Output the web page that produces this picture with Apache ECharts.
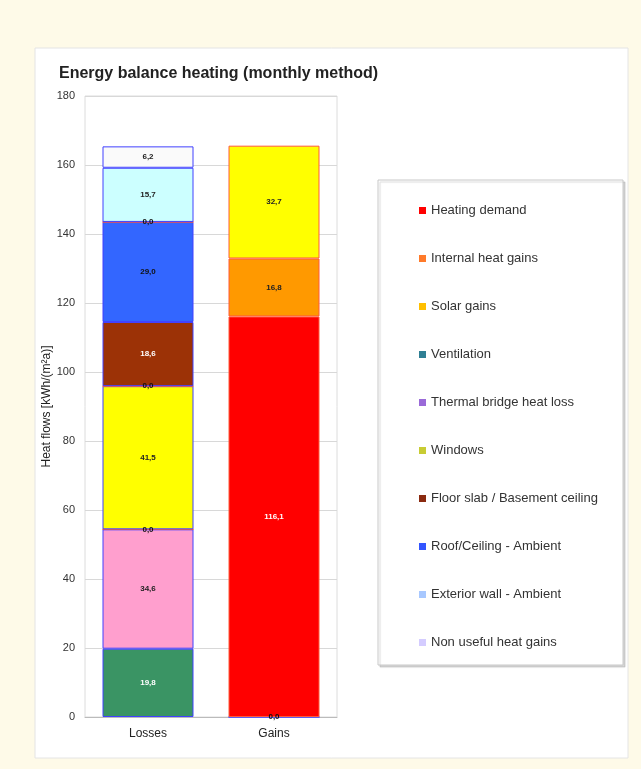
<!DOCTYPE html>
<html>
<head>
<meta charset="utf-8">
<script src="https://cdn.jsdelivr.net/npm/echarts@6/dist/echarts.min.js"></script>
<style>
  body { margin: 0; background: #fefae8; }
  #chart { width: 641px; height: 769px; }
</style>
</head>
<body>
<div id="chart"></div>
<script>
const categories = ['Losses', 'Gains'];

// stacking order, bottom to top
const seriesNames = [
  'Ventilation',
  'Thermal bridge heat loss',
  'Heating demand',
  'Windows',
  'Internal heat gains',
  'Floor slab / Basement ceiling',
  'Roof/Ceiling - Ambient',
  'Solar gains',
  'Exterior wall - Ambient',
  'Non useful heat gains'
];
const lossValues = [19.8, 34.6, 0, 41.5, 0, 18.6, 29.0, 0, 15.7, 6.2];
const gainValues = [0, null, 116.1, null, 16.8, null, null, 32.7, null, null];

const legendOrder = [
  'Heating demand',
  'Internal heat gains',
  'Solar gains',
  'Ventilation',
  'Thermal bridge heat loss',
  'Windows',
  'Floor slab / Basement ceiling',
  'Roof/Ceiling - Ambient',
  'Exterior wall - Ambient',
  'Non useful heat gains'
];

// styles
const barColors = ['#3a9464', '#ff9fce', '#ff0000', '#ffff00', '#ff9900', '#9c3206', '#3366ff', '#ffff00', '#ccffff', '#fafafa'];
const labelColors = ['#ffffff', '#222', '#ffffff', '#222', '#222', '#ffffff', '#111', '#222', '#222', '#222'];
const isGain = [false, false, true, false, true, false, false, true, false, false];
const legendColors = {
  'Heating demand': '#ff0000',
  'Internal heat gains': '#ff7a2a',
  'Solar gains': '#ffbf00',
  'Ventilation': '#2f7f94',
  'Thermal bridge heat loss': '#9a6ad8',
  'Windows': '#c8cc33',
  'Floor slab / Basement ceiling': '#8a2a10',
  'Roof/Ceiling - Ambient': '#3355ff',
  'Exterior wall - Ambient': '#a8c8ff',
  'Non useful heat gains': '#d4ccff'
};

const chart = echarts.init(document.getElementById('chart'));

// zero values still get a dark "0,0" label at the stack boundary
const toItem = v => (v === 0 ? { value: v, label: { color: '#111' } } : v);

const series = seriesNames.map((name, i) => ({
  name: name,
  type: 'bar',
  stack: 'total',
  barWidth: 91,
  data: [toItem(lossValues[i]), toItem(gainValues[i])],
  itemStyle: {
    color: barColors[i],
    borderColor: isGain[i] ? '#ff5a3a' : '#4040ff',
    borderWidth: 1
  },
  label: {
    show: true,
    position: 'inside',
    fontSize: 8,
    fontWeight: 'bold',
    color: labelColors[i],
    formatter: p => p.value.toFixed(1).replace('.', ',')
  }
}));

const option = {
  animation: false,
  textStyle: { fontFamily: 'Liberation Sans, Arial, sans-serif' },
  title: {
    text: 'Energy balance heating (monthly method)',
    left: 54,
    top: 61,
    textStyle: { fontSize: 16, fontWeight: 'bold', color: '#222' }
  },
  graphic: [
    {
      type: 'rect',
      z: -10,
      shape: { x: 35, y: 48, width: 593, height: 710 },
      style: { fill: '#ffffff', stroke: '#e4e4e4', lineWidth: 1 }
    },
    {
      type: 'rect',
      z: -5,
      shape: { x: 378, y: 180, width: 245, height: 485 },
      style: {
        fill: '#ffffff', stroke: '#c8c8c8', lineWidth: 1,
        shadowBlur: 1, shadowOffsetX: 2, shadowOffsetY: 2, shadowColor: 'rgba(0,0,0,0.15)'
      }
    }
  ],
  legend: {
    orient: 'vertical',
    left: 414,
    top: 199,
    itemWidth: 7,
    itemHeight: 7,
    itemGap: 35,
    icon: 'rect',
    textStyle: { fontSize: 13, color: '#333' },
    data: legendOrder.map(n => ({ name: n, itemStyle: { color: legendColors[n], borderWidth: 0 } }))
  },
  grid: {
    left: 85,
    right: 304,
    top: 96,
    bottom: 52,
    show: true,
    borderColor: '#dcdcdc',
    borderWidth: 1
  },
  xAxis: {
    type: 'category',
    data: categories,
    axisTick: { show: false },
    axisLine: { lineStyle: { color: '#bbb' } },
    axisLabel: { fontSize: 12, color: '#222', margin: 11 }
  },
  yAxis: {
    type: 'value',
    min: 0,
    max: 180,
    interval: 20,
    name: 'Heat flows [kWh/(m²a)]',
    nameLocation: 'middle',
    nameGap: 30,
    nameTextStyle: { fontSize: 12, color: '#222' },
    axisLine: { show: false },
    axisTick: { show: false },
    axisLabel: { fontSize: 11, color: '#333', margin: 10 },
    splitLine: { lineStyle: { color: '#d8d8d8' } }
  },
  series: series
};

chart.setOption(option);
</script>
</body>
</html>
